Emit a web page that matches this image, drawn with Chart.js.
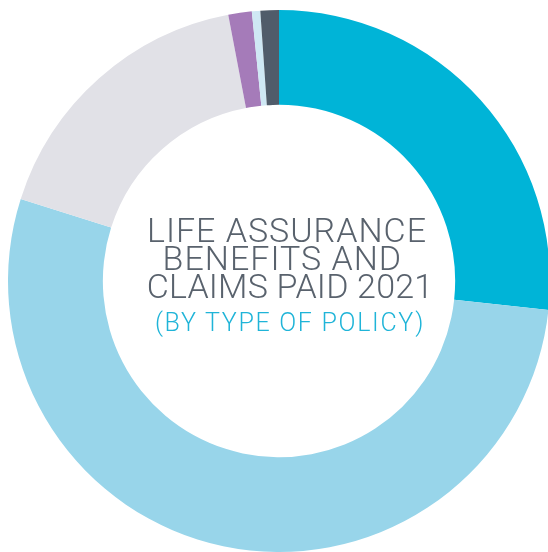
<!DOCTYPE html>
<html>
<head>
<meta charset="utf-8">
<script src="https://cdn.jsdelivr.net/npm/chart.js@4/dist/chart.umd.min.js"></script>
<style>
    html, body { margin: 0; padding: 0; background: #fff; }
    body { width: 548px; height: 552px; position: relative; overflow: hidden; }
    #policyChart { position: absolute; left: 8px; top: 10px; }
    .center-title {
        position: absolute;
        left: 87px;
        width: 400px;
        top: 216px;
        text-align: center;
        font-family: Roboto, "Liberation Sans", Arial, sans-serif;
        font-weight: 300;
        color: #59626d;
        font-size: 34px;
        line-height: 28px;
        letter-spacing: 1px;
        white-space: pre;
    }
    .center-title .year-line {
        position: relative;
        left: 3px;
        letter-spacing: 0.2px;
    }
    .center-title .sub {
        display: block;
        position: relative;
        left: 3px;
        margin-top: 10px;
        color: #1fb4d8;
        font-size: 25px;
        line-height: 26px;
        letter-spacing: 1.7px;
    }
</style>
</head>
<body>
<canvas id="policyChart" width="542" height="542"></canvas>
<div class="center-title">LIFE ASSURANCE
BENEFITS AND 
<span class="year-line">CLAIMS PAID 2021</span><span class="sub">(BY TYPE OF POLICY)</span></div>

<script>
// Share of benefits and claims paid by policy type (%)
const policyTypes = ['Type A', 'Type B', 'Type C', 'Type D', 'Type E', 'Type F'];
const claimShares = [26.7, 53.2, 17.1, 1.4, 0.5, 1.1];
const sliceColors = ['#00b4d7', '#98d5ea', '#e1e1e7', '#a57bb9', '#cfe8f4', '#505c6a'];

const ctx = document.getElementById('policyChart').getContext('2d');
new Chart(ctx, {
    type: 'doughnut',
    data: {
        labels: policyTypes,
        datasets: [{
            data: claimShares,
            backgroundColor: sliceColors,
            borderWidth: 0,
            hoverOffset: 0
        }]
    },
    options: {
        responsive: false,
        animation: false,
        cutout: '65%',
        layout: { padding: 0 },
        plugins: {
            legend: { display: false },
            tooltip: { enabled: false }
        }
    }
});
</script>
</body>
</html>
